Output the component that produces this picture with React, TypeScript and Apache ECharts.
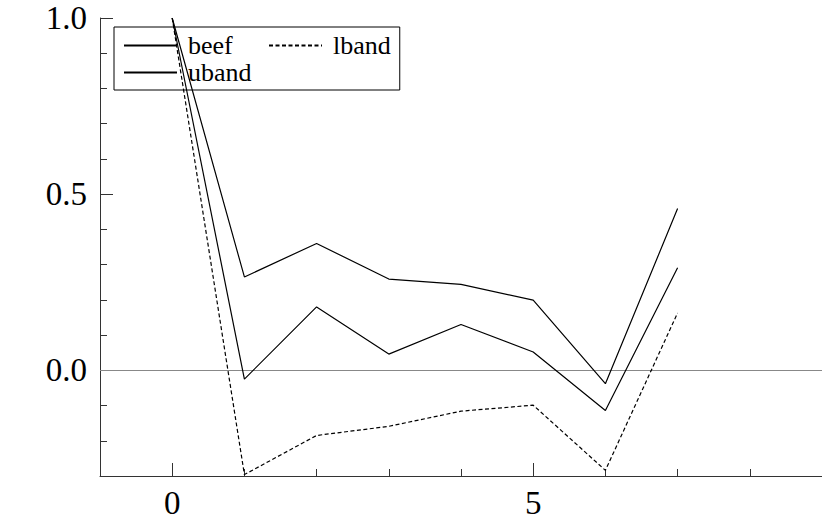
import React, { useEffect, useRef } from "react";
import * as echarts from "echarts";

const xValues = [0, 1, 2, 3, 4, 5, 6, 7];
const beef = [1.0, -0.025, 0.18, 0.046, 0.13, 0.052, -0.114, 0.291];
const uband = [1.0, 0.265, 0.36, 0.259, 0.244, 0.199, -0.038, 0.459];
const lband = [1.0, -0.296, -0.185, -0.159, -0.116, -0.099, -0.284, 0.163];
const xMajorTicks = [0, 5];
const yMajorTicks = [0, 0.5, 1.0];

const FONT = "Liberation Serif";

export default function App() {
  const ref = useRef<HTMLDivElement>(null);
  useEffect(() => {
    if (!ref.current) return;
    const chart = echarts.init(ref.current, undefined, { renderer: "svg" });
    const pairs = (ys: number[]) => xValues.map((x, i) => [x, ys[i]]);
    const axisColor = "#333";
    const lineSeries = (name: string, ys: number[], type: any, extra: any = {}) => ({
      name,
      type: "line",
      data: pairs(ys),
      xAxisIndex: 0,
      yAxisIndex: 0,
      symbol: "none",
      showSymbol: false,
      z: 10,
      lineStyle: { color: "#000", width: 1.2, type },
      itemStyle: { color: "#000" },
      ...extra,
    });
    const legendText = { fontFamily: FONT, fontSize: 26, color: "#000", lineHeight: 27 };
    chart.setOption({
      animation: false,
      backgroundColor: "#fff",
      grid: { left: 100, right: 0, top: 18, bottom: 51, containLabel: false },
      legend: {
        left: 114,
        top: 27,
        width: 280,
        z: 1,
        padding: [5, 9, 4, 9],
        itemGap: 0,
        itemWidth: 53,
        itemHeight: 27,
        itemStyle: { opacity: 0 },
        backgroundColor: "#fff",
        borderColor: "#000",
        borderWidth: 1,
        borderRadius: 0,
        formatter: (name: string) => (name === "beef" ? `{w|${name}}` : `{n|${name}}`),
        textStyle: {
          ...legendText,
          padding: [0, 0, 0, 6],
          rich: {
            w: { ...legendText, width: 80 },
            n: { ...legendText },
          },
        },
        data: ["beef", "lband", "uband"],
      },
      xAxis: [
        {
          type: "value",
          min: -1,
          max: 9,
          interval: 1,
          position: "bottom",
          axisLine: { show: true, onZero: false, lineStyle: { color: axisColor, width: 1 } },
          axisTick: { show: true, inside: true, length: 7, lineStyle: { color: axisColor } },
          axisLabel: { show: false },
          splitLine: { show: false },
        },
        {
          type: "value",
          min: -1,
          max: 9,
          position: "bottom",
          axisLine: { show: false, onZero: false },
          axisTick: { show: true, inside: true, length: 13, customValues: xMajorTicks, lineStyle: { color: axisColor } },
          axisLabel: {
            show: true,
            customValues: xMajorTicks,
            fontFamily: FONT,
            fontSize: 33,
            color: "#000",
            margin: 10,
          },
          splitLine: { show: false },
        },
      ],
      yAxis: [
        {
          type: "value",
          min: -0.3,
          max: 1.0,
          interval: 0.1,
          position: "left",
          axisLine: { show: true, onZero: false, lineStyle: { color: axisColor, width: 1 } },
          axisTick: { show: true, inside: true, length: 7, lineStyle: { color: axisColor } },
          axisLabel: { show: false },
          splitLine: { show: false },
        },
        {
          type: "value",
          min: -0.3,
          max: 1.0,
          position: "left",
          axisLine: { show: false, onZero: false },
          axisTick: { show: true, inside: true, length: 13, customValues: yMajorTicks, lineStyle: { color: axisColor } },
          axisLabel: {
            show: true,
            customValues: yMajorTicks,
            formatter: (v: number) => v.toFixed(1),
            fontFamily: FONT,
            fontSize: 33,
            color: "#000",
            margin: 13,
          },
          splitLine: { show: false },
        },
      ],
      series: [
        lineSeries("beef", beef, "solid", {
          markLine: {
            silent: true,
            symbol: "none",
            label: { show: false },
            lineStyle: { color: "#888", width: 1, type: "solid" },
            data: [{ yAxis: 0 }],
            z: 5,
          },
        }),
        lineSeries("lband", lband, [4, 2.5]),
        lineSeries("uband", uband, "solid"),
      ],
    });
    return () => chart.dispose();
  }, []);
  return (
    <div
      ref={ref}
      style={{ position: "fixed", left: 0, top: 0, width: 822, height: 527, background: "#fff" }}
    />
  );
}
